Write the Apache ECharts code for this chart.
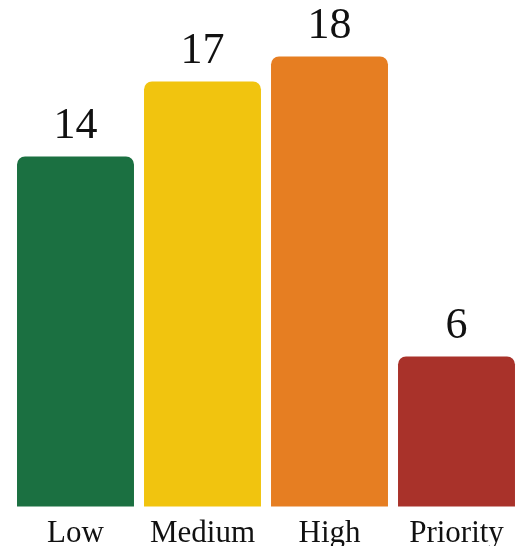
<!DOCTYPE html>
<html>
<head>
<meta charset="utf-8">
<script src="https://cdn.jsdelivr.net/npm/echarts@6/dist/echarts.min.js"></script>
<style>html,body{margin:0;padding:0;background:#fff}#c{width:525px;height:546px}</style>
</head>
<body>
<div id="c"></div>
<script>
const categories = ['Low', 'Medium', 'High', 'Priority'];
const values = [14, 17, 18, 6];
const colors = ['#1b7041', '#f1c40f', '#e67e22', '#a9322a'];

const chart = echarts.init(document.getElementById('c'), null, {renderer: 'canvas'});
chart.setOption({
  animation: false,
  backgroundColor: '#ffffff',
  grid: {left: 12, right: 5, top: 6.5, bottom: 39.5, containLabel: false, outerBoundsMode: 'none'},
  xAxis: {
    type: 'category',
    data: categories,
    axisLine: {show: false},
    axisTick: {show: false},
    axisLabel: {interval: 0, hideOverlap: false, color: '#111', fontFamily: 'Liberation Serif', fontSize: 31, margin: 12}
  },
  yAxis: {
    type: 'value', min: 0, max: 20, show: false,
    splitLine: {show: false}
  },
  series: [{
    type: 'bar',
    barCategoryGap: '7.9%',
    data: values.map((v, i) => ({value: v, itemStyle: {color: colors[i]}})),
    itemStyle: {borderRadius: [8, 8, 0, 0]},
    label: {
      show: true, position: 'top', distance: 8,
      color: '#111', fontFamily: 'Liberation Serif', fontSize: 44
    }
  }]
});
</script>
</body>
</html>
